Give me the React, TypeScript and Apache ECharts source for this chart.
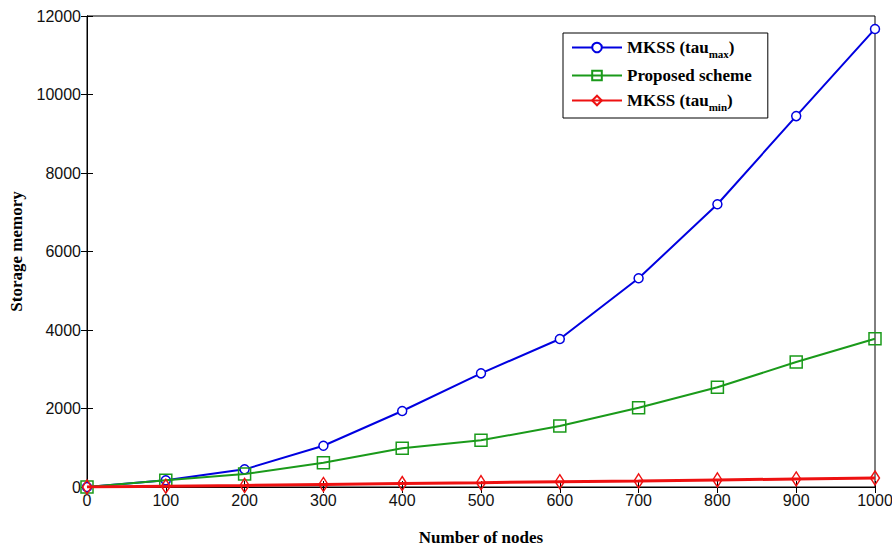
import React, { useEffect, useRef } from "react";
import * as echarts from "echarts";

const nodes = [0, 100, 200, 300, 400, 500, 600, 700, 800, 900, 1000];
const mkssMax = [0, 170, 450, 1050, 1936, 2896, 3770, 5317, 7203, 9450, 11670];
const proposed = [0, 175, 330, 620, 990, 1190, 1554, 2020, 2540, 3185, 3775];
const mkssMin = [0, 20, 40, 65, 90, 110, 135, 155, 180, 205, 230];

const serif = "'Liberation Serif', 'DejaVu Serif', serif";
const sans = "'Liberation Sans', Arial, sans-serif";
const narrow = "'Liberation Sans Narrow', 'Liberation Sans', Arial, sans-serif";

export default function App() {
  const ref = useRef<HTMLDivElement>(null);
  useEffect(() => {
    if (!ref.current) return;
    const chart = echarts.init(ref.current, null, { renderer: "svg" });
    const toPairs = (arr: number[]) => nodes.map((n, i) => [n, arr[i]]);
    const plain = (v: number) => String(v);
    chart.setOption({
      animation: false,
      backgroundColor: "#ffffff",
      grid: {
        left: 87,
        right: 17,
        top: 16,
        bottom: 63,
        show: true,
        borderColor: "#000",
        borderWidth: 1,
        containLabel: false,
        outerBoundsMode: "none",
      },
      legend: {
        orient: "vertical",
        left: 563,
        top: 33,
        backgroundColor: "#fff",
        borderColor: "#000",
        borderWidth: 1,
        padding: [6, 16, 6, 8],
        itemGap: 8,
        itemWidth: 50,
        itemHeight: 12,
        textStyle: {
          fontFamily: serif,
          fontWeight: "bold",
          fontSize: 17,
          color: "#000",
          rich: {
            sub: {
              fontFamily: serif,
              fontWeight: "bold",
              fontSize: 11,
              color: "#000",
              padding: [12, 0, 0, 0],
            },
            b: {
              fontFamily: serif,
              fontWeight: "bold",
              fontSize: 17,
              color: "#000",
            },
          },
        },
        formatter: (name: string) => {
          if (name === "MKSS (tau_max)") return "{b|MKSS (tau}{sub|max}{b|)}";
          if (name === "MKSS (tau_min)") return "{b|MKSS (tau}{sub|min}{b|)}";
          return "{b|" + name + "}";
        },
        data: ["MKSS (tau_max)", "Proposed scheme", "MKSS (tau_min)"],
      },
      xAxis: [
        {
          type: "value",
          min: 0,
          max: 1000,
          interval: 100,
          name: "Number of nodes",
          nameLocation: "middle",
          nameGap: 42,
          nameTextStyle: {
            fontFamily: serif,
            fontWeight: "bold",
            fontSize: 17,
            color: "#000",
          },
          axisLine: { show: true, lineStyle: { color: "#000" } },
          axisTick: { show: true, inside: true, length: 6, lineStyle: { color: "#000" } },
          axisLabel: { fontFamily: narrow, fontSize: 16, color: "#111", margin: 5, formatter: plain },
          splitLine: { show: false },
        },
        {
          type: "value",
          min: 0,
          max: 1000,
          interval: 100,
          position: "top",
          axisLine: { show: true, lineStyle: { color: "#000" } },
          axisTick: { show: true, inside: true, length: 6, lineStyle: { color: "#000" } },
          axisLabel: { show: false },
          splitLine: { show: false },
        },
      ],
      yAxis: [
        {
          type: "value",
          min: 0,
          max: 12000,
          interval: 2000,
          name: "Storage memory",
          nameLocation: "middle",
          nameGap: 62,
          nameTextStyle: {
            fontFamily: serif,
            fontWeight: "bold",
            fontSize: 17,
            color: "#000",
          },
          axisLine: { show: true, lineStyle: { color: "#000" } },
          axisTick: { show: true, inside: true, length: 6, lineStyle: { color: "#000" } },
          axisLabel: { fontFamily: sans, fontSize: 16, color: "#111", margin: 6, formatter: plain },
          splitLine: { show: false },
        },
        {
          type: "value",
          min: 0,
          max: 12000,
          interval: 2000,
          position: "right",
          axisLine: { show: true, lineStyle: { color: "#000" } },
          axisTick: { show: true, inside: true, length: 6, lineStyle: { color: "#000" } },
          axisLabel: { show: false },
          splitLine: { show: false },
        },
      ],
      series: [
        {
          name: "MKSS (tau_max)",
          type: "line",
          data: toPairs(mkssMax),
          symbol: "circle",
          symbolSize: 9,
          lineStyle: { color: "#0000e0", width: 2 },
          itemStyle: { color: "#ffffff", borderColor: "#0000e0", borderWidth: 1.5 },
          z: 3,
        },
        {
          name: "Proposed scheme",
          type: "line",
          data: toPairs(proposed),
          symbol: "rect",
          symbolSize: 12,
          lineStyle: { color: "#1a9a1a", width: 2 },
          itemStyle: { color: "transparent", borderColor: "#1a9a1a", borderWidth: 1.5 },
          z: 4,
        },
        {
          name: "MKSS (tau_min)",
          type: "line",
          data: toPairs(mkssMin),
          symbol: "diamond",
          symbolSize: [9, 14],
          lineStyle: { color: "#ee1111", width: 3 },
          itemStyle: { color: "transparent", borderColor: "#ee1111", borderWidth: 1.5 },
          z: 5,
        },
      ],
    });
    return () => chart.dispose();
  }, []);
  return (
    <div
      ref={ref}
      style={{ position: "absolute", left: 0, top: 0, width: 892, height: 550 }}
    />
  );
}
